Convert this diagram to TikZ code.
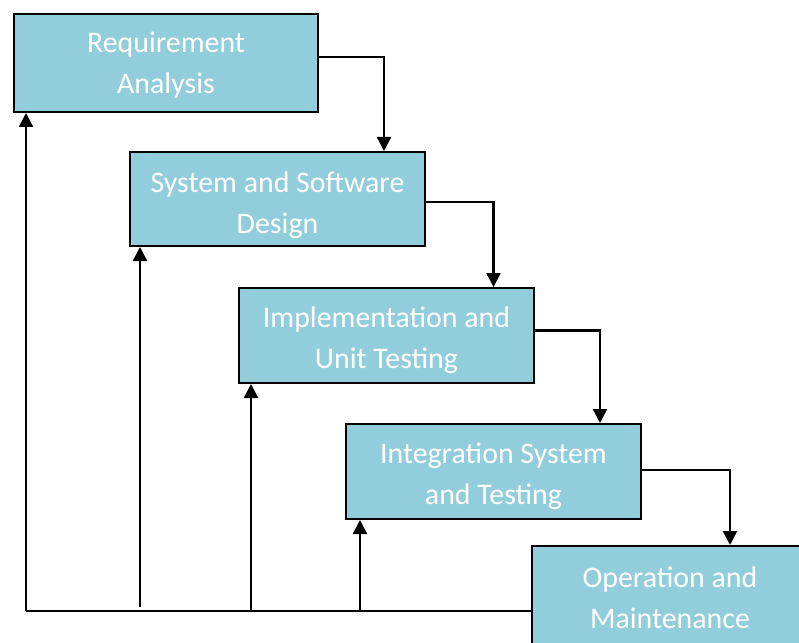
\documentclass[tikz,border=0pt]{standalone}
\usepackage{fontspec}
\setmainfont{Carlito}
\usetikzlibrary{arrows.meta,calc}
\definecolor{boxfill}{HTML}{92CDDC}
\tikzset{
  stage/.style={draw=black, line width=2bp, fill=boxfill, inner sep=0pt},
  stagetext/.style={text=white, align=center, font=\fontsize{30}{41}\selectfont, inner sep=0pt},
  arr/.style={line width=2.4bp, -{Triangle[length=14bp,width=14bp]}},
  ln/.style={line width=2.4bp}
}
\begin{document}
\begin{tikzpicture}[x=1bp,y=-1bp]
\clip (0,0) rectangle (799,643);
\fill[white] (0,0) rectangle (799,643);
\node[stage, minimum width=304bp, minimum height=98bp] (b1) at (166,63) {};
\node[stage, minimum width=295bp, minimum height=94bp] (b2) at (277.5,199) {};
\node[stage, minimum width=295bp, minimum height=95bp] (b3) at (386.5,335.5) {};
\node[stage, minimum width=295bp, minimum height=95bp] (b4) at (493.5,471.5) {};
\node[stage, minimum width=276bp, minimum height=102bp] (b5) at (670,597) {};
\node[stagetext] (t1) at (166,65.5) {Requirement\\Analysis};
\node[stagetext] (t2) at (277.5,205) {System and Software\\Design};
\node[stagetext] (t3) at (386.5,340) {Implementation and\\Unit Testing};
\node[stagetext] (t4) at (493.5,476) {Integration System\\and Testing};
\node[stagetext] (t5) at (670,597.5) {Operation and\\Maintenance};
% forward flow
\draw[arr] ([yshift=6bp]b1.east) -| ([xshift=106.5bp]b2.north);
\draw[arr] ([yshift=-3bp]b2.east) -| ([xshift=107bp]b3.north);
\draw[arr] ([yshift=5bp]b3.east) -| ([xshift=106.5bp]b4.north);
\draw[arr] ([yshift=1.5bp]b4.east) -| ([xshift=60bp]b5.north);
% feedback
\coordinate (f1) at (26,611);
\coordinate (f2) at (140,607);
\coordinate (f3) at (251,611);
\coordinate (f4) at (360,611);
\draw[ln] (f1) -- (f1 -| b5.west);
\draw[arr] (f1) -- (f1 |- b1.south);
\draw[arr] (f2) -- (f2 |- b2.south);
\draw[arr] (f3) -- (f3 |- b3.south);
\draw[arr] (f4) -- (f4 |- b4.south);
\end{tikzpicture}
\end{document}
